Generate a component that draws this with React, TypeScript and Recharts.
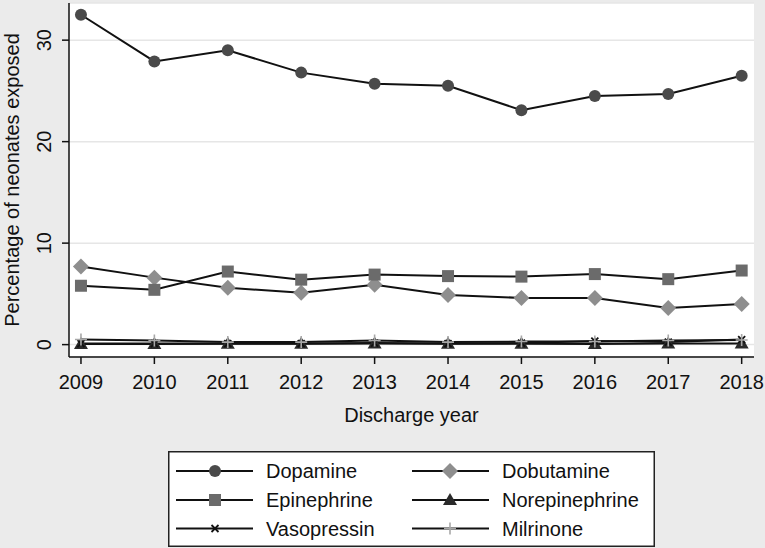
import React from 'react';
import { LineChart, Line, XAxis, YAxis, CartesianGrid, Legend } from 'recharts';

const years = [2009, 2010, 2011, 2012, 2013, 2014, 2015, 2016, 2017, 2018];
const dopamine = [32.5, 27.9, 29.0, 26.8, 25.7, 25.5, 23.1, 24.5, 24.7, 26.5];
const dobutamine = [7.7, 6.6, 5.6, 5.1, 5.9, 4.9, 4.6, 4.6, 3.6, 4.0];
const epinephrine = [5.8, 5.4, 7.2, 6.4, 6.9, 6.75, 6.7, 6.95, 6.45, 7.3];
const norepinephrine = [0.05, 0.05, 0.08, 0.08, 0.1, 0.08, 0.08, 0.05, 0.1, 0.1];
const vasopressin = [0.1, 0.1, 0.1, 0.1, 0.15, 0.1, 0.15, 0.35, 0.25, 0.5];
const milrinone = [0.5, 0.4, 0.25, 0.25, 0.4, 0.25, 0.3, 0.3, 0.4, 0.45];
const yTicks = [0, 10, 20, 30];

const FONT = '"Liberation Sans", Arial, sans-serif';

const data = years.map((year, i) => ({
    year,
    dopamine: dopamine[i],
    dobutamine: dobutamine[i],
    epinephrine: epinephrine[i],
    norepinephrine: norepinephrine[i],
    vasopressin: vasopressin[i],
    milrinone: milrinone[i],
}));

type Shape = 'circle' | 'diamond' | 'square' | 'triangle' | 'x' | 'plus';

const series: { key: string; name: string; shape: Shape; color: string }[] = [
    { key: 'dopamine', name: 'Dopamine', shape: 'circle', color: '#4a4a4a' },
    { key: 'dobutamine', name: 'Dobutamine', shape: 'diamond', color: '#8e8e8e' },
    { key: 'epinephrine', name: 'Epinephrine', shape: 'square', color: '#6b6b6b' },
    { key: 'norepinephrine', name: 'Norepinephrine', shape: 'triangle', color: '#2a2a2a' },
    { key: 'vasopressin', name: 'Vasopressin', shape: 'x', color: '#111111' },
    { key: 'milrinone', name: 'Milrinone', shape: 'plus', color: '#a8a8a8' },
];

function Marker({ shape, color, cx, cy }: { shape: Shape; color: string; cx: number; cy: number }) {
    switch (shape) {
        case 'circle':
            return <circle cx={cx} cy={cy} r={6} fill={color} />;
        case 'diamond':
            return <polygon points={`${cx},${cy - 8} ${cx + 8},${cy} ${cx},${cy + 8} ${cx - 8},${cy}`} fill={color} />;
        case 'square':
            return <rect x={cx - 6} y={cy - 6} width={12} height={12} fill={color} />;
        case 'triangle':
            return <polygon points={`${cx},${cy - 7} ${cx + 7},${cy + 5} ${cx - 7},${cy + 5}`} fill={color} />;
        case 'x':
            return (
                <path d={`M${cx - 3.5},${cy - 3.5}L${cx + 3.5},${cy + 3.5}M${cx - 3.5},${cy + 3.5}L${cx + 3.5},${cy - 3.5}`}
                    stroke={color} strokeWidth={1.8} />
            );
        case 'plus':
            return (
                <path d={`M${cx - 6},${cy}L${cx + 6},${cy}M${cx},${cy - 6}L${cx},${cy + 6}`}
                    stroke={color} strokeWidth={1.6} />
            );
    }
    return null;
}

const YTick = (props: any) => {
    const { y, payload } = props;
    return (
        <text x={44} y={y} transform={`rotate(-90 44 ${y})`} textAnchor="middle" dominantBaseline="central"
            fontFamily={FONT} fontSize={20} fill="#111">
            {payload.value}
        </text>
    );
};

const XTick = (props: any) => {
    const { x, payload } = props;
    return (
        <text x={x} y={382} textAnchor="middle" dominantBaseline="central" fontFamily={FONT} fontSize={20} fill="#111">
            {payload.value}
        </text>
    );
};

const XLabel = (props: any) => {
    const { viewBox } = props;
    return (
        <text x={viewBox.x + viewBox.width / 2} y={415} textAnchor="middle" dominantBaseline="central"
            fontFamily={FONT} fontSize={20} fill="#111">
            Discharge year
        </text>
    );
};

const YLabel = (props: any) => {
    const { viewBox } = props;
    const cy = viewBox.y + viewBox.height / 2;
    return (
        <text x={12} y={cy} transform={`rotate(-90 12 ${cy})`} textAnchor="middle" dominantBaseline="central"
            fontFamily={FONT} fontSize={20} fill="#111">
            Percentage of neonates exposed
        </text>
    );
};

// two columns, three rows, in series order (Stata-style legend)
const LegendBox = () => {
    const cols = [{ x1: 8, m: 47, x2: 85, t: 98 }, { x1: 244, m: 282, x2: 321, t: 334 }];
    const rows = [20, 49, 77.5];
    return (
        <svg width={487} height={96} style={{ display: 'block' }}>
            <rect x={0.75} y={0.75} width={485.5} height={94.5} fill="#fff" stroke="#222" strokeWidth={1.5} />
            {series.map((s, i) => {
                const c = cols[i % 2];
                const y = rows[Math.floor(i / 2)];
                return (
                    <g key={s.key}>
                        <line x1={c.x1} x2={c.x2} y1={y} y2={y} stroke="#111" strokeWidth={2} />
                        <Marker shape={s.shape} color={s.color} cx={c.m} cy={y} />
                        <text x={c.t} y={y} dominantBaseline="central" fontFamily={FONT} fontSize={20} fill="#111">
                            {s.name}
                        </text>
                    </g>
                );
            })}
        </svg>
    );
};

export default function App() {
    return (
        <div style={{ position: 'absolute', left: 0, top: 0, width: 765, height: 548, background: '#ebebeb' }}>
            <LineChart width={765} height={548} data={data} margin={{ top: 3, right: 11, bottom: 131, left: 0 }}>
                <CartesianGrid vertical={false} fill="#fff" stroke="#e6e6e6" strokeWidth={1.5} />
                <XAxis
                    dataKey="year"
                    type="number"
                    domain={[2008.837, 2018.168]}
                    ticks={years}
                    allowDataOverflow
                    height={60}
                    tick={<XTick />}
                    tickSize={7}
                    axisLine={{ stroke: '#111', strokeWidth: 1.5 }}
                    tickLine={{ stroke: '#111', strokeWidth: 1.5 }}
                    label={<XLabel />}
                />
                <YAxis
                    type="number"
                    domain={[-1.22, 33.66]}
                    ticks={yTicks}
                    allowDataOverflow
                    width={69}
                    tick={<YTick />}
                    tickSize={7}
                    axisLine={{ stroke: '#111', strokeWidth: 1.5 }}
                    tickLine={{ stroke: '#111', strokeWidth: 1.5 }}
                    label={<YLabel />}
                />
                <Legend
                    layout="horizontal"
                    verticalAlign="middle"
                    align="center"
                    content={<LegendBox />}
                    wrapperStyle={{ position: 'absolute', left: 168, top: 451, width: 487, height: 96 }}
                />
                {series.map(s => (
                    <Line
                        key={s.key}
                        dataKey={s.key}
                        name={s.name}
                        type="linear"
                        stroke="#111"
                        strokeWidth={2}
                        isAnimationActive={false}
                        dot={(p: any) => <Marker key={`${s.key}-${p.index}`} shape={s.shape} color={s.color} cx={p.cx} cy={p.cy} />}
                        activeDot={false}
                    />
                ))}
            </LineChart>
        </div>
    );
}
